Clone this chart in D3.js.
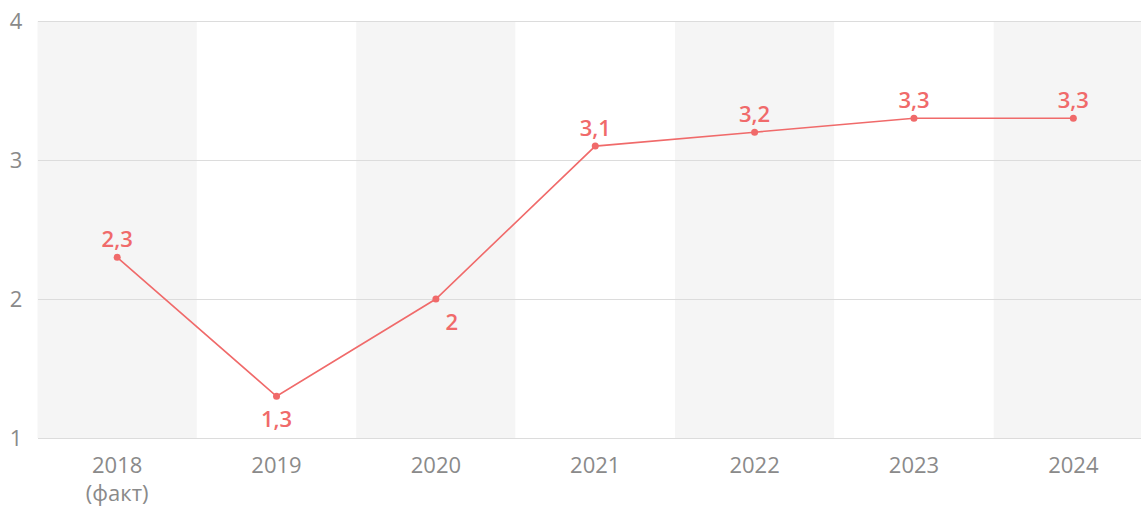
<!DOCTYPE html>
<html><head><meta charset="utf-8">
<script src="https://cdn.jsdelivr.net/npm/d3@7"></script>
<style>body{margin:0;background:#fff;}svg{display:block;font-family:"Open Sans","Noto Sans",sans-serif;}</style>
</head><body>
<svg id="c" width="1141" height="507"></svg>
<script>
const categories = ["2018", "2019", "2020", "2021", "2022", "2023", "2024"];
const subLabels = ["(факт)", "", "", "", "", "", ""];
const values = [2.3, 1.3, 2, 3.1, 3.2, 3.3, 3.3];
const valueLabels = ["2,3", "1,3", "2", "3,1", "3,2", "3,3", "3,3"];
const labelBelow = [false, true, true, false, false, false, false];
const yTicks = [1, 2, 3, 4];

(function () {
const svg = d3.select("#c");
const mLeft = 37.5, mRight = 1153, mTop = 21, mBottom = 438;
const x = d3.scaleBand().domain(categories).range([mLeft, mRight]).padding(0);
const y = d3.scaleLinear().domain([1, 4]).range([mBottom, mTop]);
const cx = d => x(d) + x.bandwidth() / 2;

svg.append("g").selectAll("rect").data(categories).join("rect")
  .attr("x", d => x(d)).attr("y", mTop).attr("width", x.bandwidth()).attr("height", mBottom - mTop)
  .attr("fill", (d, i) => i % 2 === 0 ? "#f5f5f5" : "#ffffff");

svg.append("g").selectAll("line").data(yTicks).join("line")
  .attr("x1", 38).attr("x2", 1141).attr("y1", d => y(d) + 0.5).attr("y2", d => y(d) + 0.5)
  .attr("stroke", "#dcdcdc").attr("stroke-width", 1);

svg.append("g").selectAll("text").data(yTicks).join("text")
  .attr("x", 16).attr("y", d => y(d)).attr("dy", "0.35em").attr("text-anchor", "middle")
  .attr("fill", "#8a8a8a").attr("font-size", 22).text(d => d);

const xl = svg.append("g").selectAll("g").data(categories).join("g");
xl.append("text").attr("x", d => cx(d)).attr("y", 465).attr("dy", "0.35em").attr("text-anchor", "middle")
  .attr("fill", "#8a8a8a").attr("font-size", 22).text(d => d);
xl.append("text").attr("x", d => cx(d)).attr("y", 493).attr("dy", "0.35em").attr("text-anchor", "middle")
  .attr("fill", "#8a8a8a").attr("font-size", 22).text((d, i) => subLabels[i]);

const color = "#f06a6a";
const pts = categories.map((c, i) => [cx(c), y(values[i])]);
svg.append("path").attr("d", d3.line()(pts)).attr("fill", "none").attr("stroke", color).attr("stroke-width", 1.6);
svg.append("g").selectAll("circle").data(pts).join("circle")
  .attr("cx", d => d[0]).attr("cy", d => d[1]).attr("r", 3.5).attr("fill", color);

svg.append("g").selectAll("text").data(categories).join("text")
  .attr("x", (d, i) => cx(d) + (i === 2 ? 16 : 0))
  .attr("y", (d, i) => y(values[i]) + (labelBelow[i] ? 23 : -18))
  .attr("dy", "0.35em").attr("text-anchor", "middle")
  .attr("fill", color).attr("font-size", 22).attr("font-weight", 600)
  .text((d, i) => valueLabels[i]);
})();
</script>
</body></html>
